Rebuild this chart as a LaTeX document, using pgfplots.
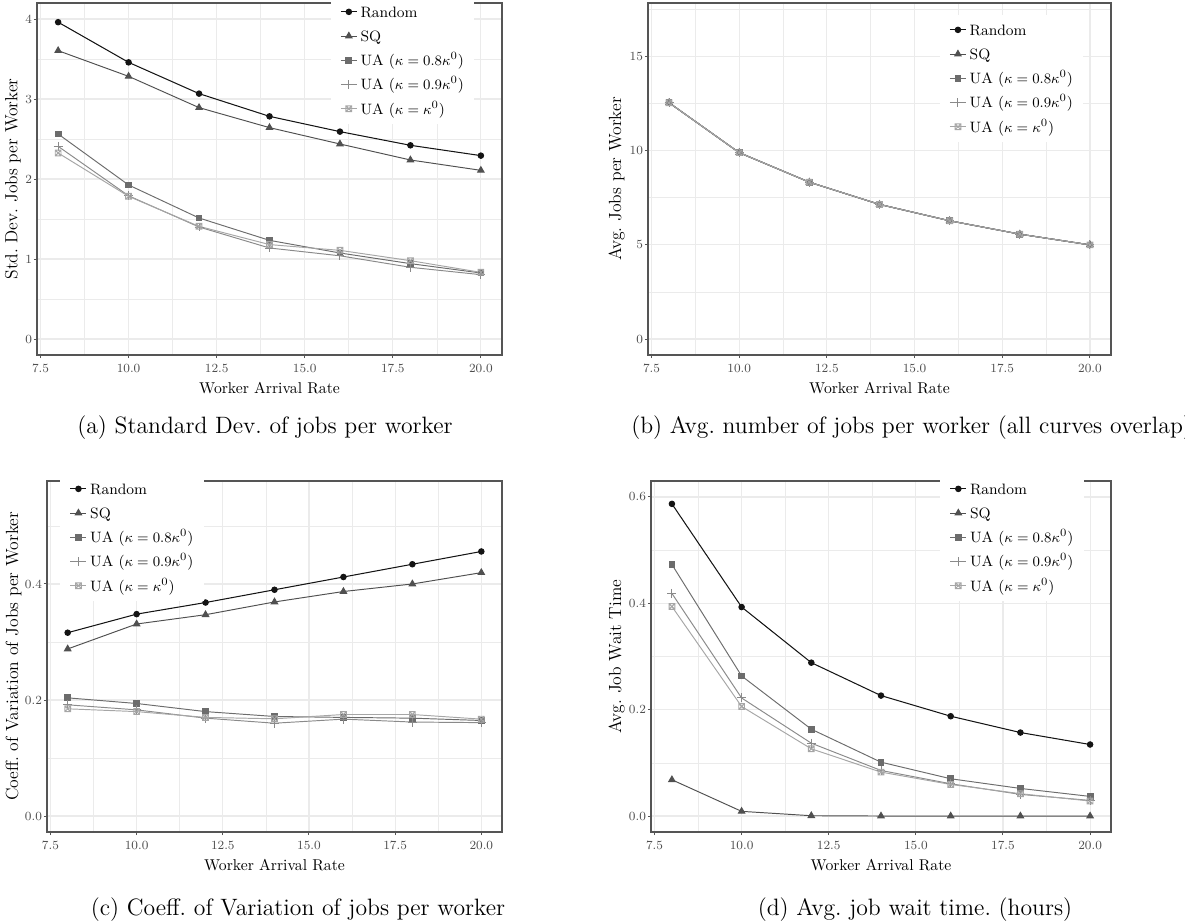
\documentclass[border=0pt]{standalone}
\usepackage{pgfplots}
\pgfplotsset{compat=1.18}
\definecolor{cRand}{HTML}{141414}
\definecolor{cSQ}{HTML}{505050}
\definecolor{cU8}{HTML}{6C6C6C}
\definecolor{cU9}{HTML}{8A8A8A}
\definecolor{cU10}{HTML}{A6A6A6}
\definecolor{gridc}{HTML}{EBEBEB}
\definecolor{bordc}{HTML}{555555}
\definecolor{tickc}{HTML}{4D4D4D}
\newcommand{\lgd}[1]{\vphantom{($\kappa^0$)}#1}
\pgfdeclareplotmark{boxx}{%
  \pgfpathrectangle{\pgfpoint{-\pgfplotmarksize}{-\pgfplotmarksize}}{\pgfpoint{2\pgfplotmarksize}{2\pgfplotmarksize}}%
  \pgfpathmoveto{\pgfpoint{-\pgfplotmarksize}{-\pgfplotmarksize}}\pgfpathlineto{\pgfpoint{\pgfplotmarksize}{\pgfplotmarksize}}%
  \pgfpathmoveto{\pgfpoint{-\pgfplotmarksize}{\pgfplotmarksize}}\pgfpathlineto{\pgfpoint{\pgfplotmarksize}{-\pgfplotmarksize}}%
  \pgfusepathqstroke}
\pgfplotsset{
  gg/.style={
    scale only axis,
    xmin=7.4, xmax=20.6,
    xtick={7.5,10,12.5,15,17.5,20},
    xticklabels={7.5,10.0,12.5,15.0,17.5,20.0},
    minor xtick={8.75,11.25,13.75,16.25,18.75},
    grid=both,
    major grid style={draw=gridc, line width=0.75pt},
    minor grid style={draw=gridc, line width=0.4pt},
    axis line style={draw=bordc, line width=0.8pt},
    tick style={draw=bordc, line width=0.6pt},
    tick align=outside,
    major tick length=2pt, minor tick length=0pt,
    xtick pos=left, ytick pos=left,
    ticklabel style={font=\fontsize{7.8}{9}\selectfont, text=tickc},
    yticklabel style={inner xsep=1pt},
    xlabel={Worker Arrival Rate},
    xlabel style={font=\fontsize{9.8}{11}\selectfont, at={([yshift=-20.5pt]rel axis cs:0.5,0)}, anchor=center},
    ylabel style={font=\fontsize{11}{12}\selectfont, anchor=center},
    legend cell align=left,
    legend image code/.code={\draw[mark repeat=2,mark phase=2,#1] plot coordinates {(0pt,0pt) (5pt,0pt) (10pt,0pt)};},
    legend style={fill=white, draw=none, inner xsep=6pt, inner ysep=4pt,
      font=\fontsize{9.4}{11}\selectfont, row sep=4.3pt, column sep=1.5pt,
      nodes={inner sep=0.5pt}},
  },
  sRand/.style={color=cRand, mark=*, mark size=1.7pt, line width=0.65pt},
  sSQ/.style={color=cSQ, mark=triangle*, mark size=2.3pt, line width=0.6pt},
  sU8/.style={color=cU8, mark=square*, mark size=1.8pt, line width=0.6pt},
  sU9/.style={color=cU9, mark=+, mark size=2.8pt, line width=0.6pt},
  sU10/.style={color=cU10, mark=boxx, mark size=1.8pt, line width=0.6pt},
}
\begin{document}
\begin{tikzpicture}
\path[use as bounding box] (0,0) rectangle (740.625pt,577.5pt);
% (a)
\begin{axis}[gg, at={(23.125pt,355.625pt)}, anchor=south west, width=290.625pt, height=220pt,
  ymin=-0.2, ymax=4.2, ytick={0,1,2,3,4}, yticklabels={0,1,2,3,4},
  minor ytick={0.5,1.5,2.5,3.5},
  ylabel={Std.\ Dev.\ Jobs per Worker},
  ylabel style={at={([xshift=-15pt]rel axis cs:0,0.5)}},
  legend style={at={(0.631,1.0185)}, anchor=north west}]
\addplot[sRand] coordinates {(8,3.96) (10,3.458) (12,3.067) (14,2.783) (16,2.592) (18,2.421) (20,2.292)};
\addplot[sSQ] coordinates {(8,3.604) (10,3.283) (12,2.892) (14,2.642) (16,2.4375) (18,2.2375) (20,2.108)};
\addplot[sU8] coordinates {(8,2.5625) (10,1.925) (12,1.5125) (14,1.233) (16,1.075) (18,0.942) (20,0.825)};
\addplot[sU9] coordinates {(8,2.408) (10,1.79) (12,1.40) (14,1.1375) (16,1.04) (18,0.896) (20,0.804)};
\addplot[sU10] coordinates {(8,2.325) (10,1.783) (12,1.408) (14,1.18) (16,1.108) (18,0.979) (20,0.833)};
\legend{\lgd{Random},\lgd{SQ},\lgd{UA ($\kappa=0.8\kappa^0$)},\lgd{UA ($\kappa=0.9\kappa^0$)},\lgd{UA ($\kappa=\kappa^0$)}}
\end{axis}
% (b)
\begin{axis}[gg, at={(405pt,355.625pt)}, anchor=south west, width=289.375pt, height=220pt,
  ymin=-0.85, ymax=17.85, ytick={0,5,10,15}, yticklabels={0,5,10,15},
  minor ytick={2.5,7.5,12.5,17.5},
  ylabel={Avg.\ Jobs per Worker},
  ylabel style={at={([xshift=-19.6pt]rel axis cs:0,0.5)}},
  legend style={at={(0.6296,0.9673)}, anchor=north west}]
\addplot[sRand] coordinates {(8,12.55) (10,9.9) (12,8.33) (14,7.15) (16,6.28) (18,5.57) (20,5.0)};
\addplot[sSQ] coordinates {(8,12.55) (10,9.9) (12,8.33) (14,7.15) (16,6.28) (18,5.57) (20,5.0)};
\addplot[sU8] coordinates {(8,12.55) (10,9.9) (12,8.33) (14,7.15) (16,6.28) (18,5.57) (20,5.0)};
\addplot[sU9] coordinates {(8,12.55) (10,9.9) (12,8.33) (14,7.15) (16,6.28) (18,5.57) (20,5.0)};
\addplot[sU10] coordinates {(8,12.55) (10,9.9) (12,8.33) (14,7.15) (16,6.28) (18,5.57) (20,5.0)};
\legend{\lgd{Random},\lgd{SQ},\lgd{UA ($\kappa=0.8\kappa^0$)},\lgd{UA ($\kappa=0.9\kappa^0$)},\lgd{UA ($\kappa=\kappa^0$)}}
\end{axis}
% (c)
\begin{axis}[gg, at={(29.375pt,57.5pt)}, anchor=south west, width=284.375pt, height=219.375pt,
  ymin=-0.0275, ymax=0.5775, ytick={0,0.2,0.4}, yticklabels={0.0,0.2,0.4},
  minor ytick={0.1,0.3,0.5},
  ylabel={Coeff.\ of Variation of Jobs per Worker},
  ylabel style={at={([xshift=-20.9pt]rel axis cs:0,0.5)}},
  legend style={at={(0.0286,1.0214)}, anchor=north west}]
\addplot[sRand] coordinates {(8,0.316) (10,0.348) (12,0.368) (14,0.390) (16,0.412) (18,0.434) (20,0.456)};
\addplot[sSQ] coordinates {(8,0.288) (10,0.331) (12,0.347) (14,0.369) (16,0.387) (18,0.400) (20,0.4195)};
\addplot[sU8] coordinates {(8,0.2037) (10,0.194) (12,0.180) (14,0.1716) (16,0.170) (18,0.1687) (20,0.1647)};
\addplot[sU9] coordinates {(8,0.1917) (10,0.183) (12,0.1687) (14,0.160) (16,0.167) (18,0.162) (20,0.161)};
\addplot[sU10] coordinates {(8,0.1848) (10,0.180) (12,0.170) (14,0.1676) (16,0.175) (18,0.175) (20,0.167)};
\legend{\lgd{Random},\lgd{SQ},\lgd{UA ($\kappa=0.8\kappa^0$)},\lgd{UA ($\kappa=0.9\kappa^0$)},\lgd{UA ($\kappa=\kappa^0$)}}
\end{axis}
% (d)
\begin{axis}[gg, at={(406.875pt,57.5pt)}, anchor=south west, width=287.5pt, height=219.375pt,
  ymin=-0.03, ymax=0.63, ytick={0,0.2,0.4,0.6}, yticklabels={0.0,0.2,0.4,0.6},
  minor ytick={0.1,0.3,0.5},
  ylabel={Avg.\ Job Wait Time},
  ylabel style={at={([xshift=-21.5pt]rel axis cs:0,0.5)}},
  legend style={at={(0.628,1.0214)}, anchor=north west}]
\addplot[sRand] coordinates {(8,0.587) (10,0.393) (12,0.2884) (14,0.2265) (16,0.1877) (18,0.157) (20,0.1345)};
\addplot[sSQ] coordinates {(8,0.0682) (10,0.0088) (12,0.0006) (14,0) (16,0) (18,0) (20,0)};
\addplot[sU8] coordinates {(8,0.473) (10,0.2634) (12,0.1633) (14,0.1013) (16,0.0701) (18,0.0519) (20,0.0369)};
\addplot[sU9] coordinates {(8,0.4186) (10,0.222) (12,0.137) (14,0.0857) (16,0.0607) (18,0.0407) (20,0.0294)};
\addplot[sU10] coordinates {(8,0.394) (10,0.206) (12,0.1264) (14,0.0826) (16,0.0594) (18,0.042) (20,0.0282)};
\legend{\lgd{Random},\lgd{SQ},\lgd{UA ($\kappa=0.8\kappa^0$)},\lgd{UA ($\kappa=0.9\kappa^0$)},\lgd{UA ($\kappa=\kappa^0$)}}
\end{axis}
% captions
\node[font=\fontsize{14.8}{17}\selectfont, anchor=center] at (165.6pt,310pt) {(a) Standard Dev.\ of jobs per worker};
\node[font=\fontsize{14.8}{17}\selectfont, anchor=west] at (391pt,310pt) {(b) Avg.\ number of jobs per worker (all curves overlap)};
\node[font=\fontsize{14.8}{17}\selectfont, anchor=center] at (186.25pt,8.75pt) {(c) Coeff.\ of Variation of jobs per worker};
\node[font=\fontsize{14.8}{17}\selectfont, anchor=center] at (571.9pt,8.75pt) {(d) Avg.\ job wait time.\ (hours)};
\end{tikzpicture}
\end{document}
